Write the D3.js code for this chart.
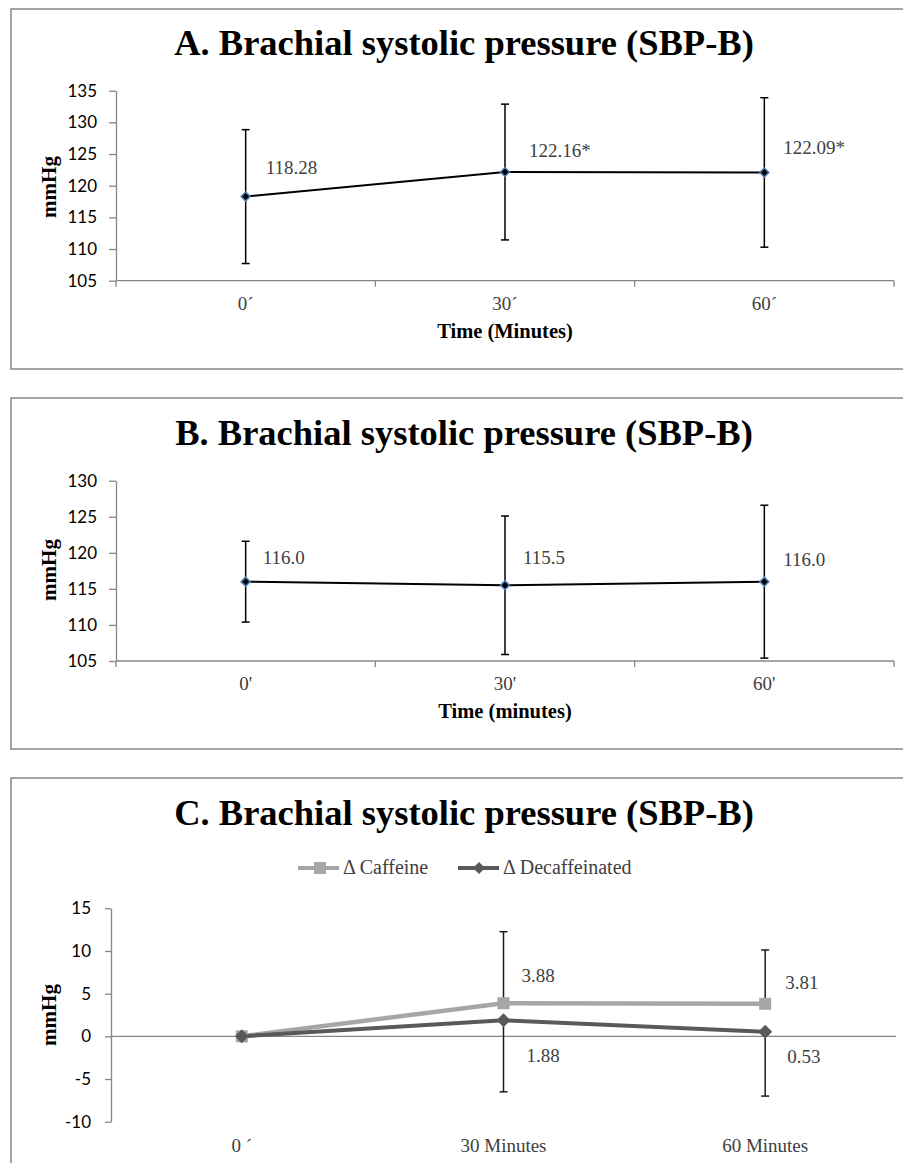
<!DOCTYPE html>
<html lang="en">
<head>
<meta charset="UTF-8">
<title>Brachial systolic pressure</title>
<script src="https://cdnjs.cloudflare.com/ajax/libs/d3/7.8.5/d3.min.js"></script>
<style>
    body { margin: 0; background: #fff; }
    .tick text { font-family: Lato, sans-serif; font-size: 17px; fill: #000; }
    .domain, .tick line { stroke: #868686; stroke-width: 1.3; }
    .serif { font-family: "Liberation Serif", serif; }
</style>
</head>
<body>
<div id="wrapper"></div>
<script>
// panel A
const timesA = ["0´", "30´", "60´"];
const sbpA = [118.28, 122.16, 122.09];
const sdA = [10.57, 10.72, 11.8];
const labelsA = ["118.28", "122.16*", "122.09*"];
const yTicksA = [105, 110, 115, 120, 125, 130, 135];

// panel B
const timesB = ["0'", "30'", "60'"];
const sbpB = [116.0, 115.5, 116.0];
const sdB = [5.6, 9.6, 10.6];
const labelsB = ["116.0", "115.5", "116.0"];
const yTicksB = [105, 110, 115, 120, 125, 130];

// panel C
const timesC = ["0 ´", "30 Minutes", "60 Minutes"];
const deltaCaffeine = [0, 3.88, 3.81];
const deltaDecaf = [0, 1.88, 0.53];
const sdCaffeine = [0, 8.38, 6.31];   // drawn upward only
const sdDecaf = [0, 8.38, 7.53];      // drawn downward only
const labelsCaffeine = ["", "3.88", "3.81"];
const labelsDecaf = ["", "1.88", "0.53"];
const yTicksC = [-10, -5, 0, 5, 10, 15];

const labelGray = "#404040";

const svg = d3.select("#wrapper").append("svg")
    .attr("width", 903)
    .attr("height", 1163);

function diamond(r) {
    return `M0,${-r}L${r},0L0,${r}L${-r},0Z`;
}

function panelFrame(top, bottom, title, titleY) {
    svg.append("rect")
        .attr("x", 11).attr("y", top)
        .attr("width", 900).attr("height", bottom - top)
        .attr("fill", "none").attr("stroke", "#868686").attr("stroke-width", 1.5);
    svg.append("text")
        .attr("class", "serif")
        .attr("x", 464).attr("y", titleY)
        .attr("text-anchor", "middle")
        .attr("font-weight", "bold").attr("font-size", 36.5)
        .text(title);
}

function yTitle(cy) {
    svg.append("text")
        .attr("class", "serif")
        .attr("transform", `translate(56,${cy}) rotate(-90)`)
        .attr("text-anchor", "middle")
        .attr("font-weight", "bold").attr("font-size", 21)
        .text("mmHg");
}

// single-series panels (A and B)
function drawSeries(cfg) {
    panelFrame(cfg.top, cfg.bottom, cfg.title, cfg.titleY);

    const x = d3.scaleBand().domain(cfg.times).range([116, 894]);
    const y = d3.scaleLinear().domain(d3.extent(cfg.ticks)).range(cfg.yRange);

    svg.append("g")
        .attr("transform", "translate(116,0)")
        .call(d3.axisLeft(y).tickValues(cfg.ticks).tickFormat(d => String(d))
            .tickSize(7).tickPadding(12).tickSizeOuter(0));

    // category axis with ticks on band edges
    const xAxis = svg.append("g");
    xAxis.append("line")
        .attr("x1", 116).attr("x2", 894)
        .attr("y1", y(cfg.ticks[0])).attr("y2", y(cfg.ticks[0]))
        .attr("stroke", "#868686").attr("stroke-width", 1.3);
    const edges = cfg.times.map(t => x(t)).concat([x.range()[1]]);
    xAxis.selectAll(".edge").data(edges).enter().append("line")
        .attr("x1", d => d).attr("x2", d => d)
        .attr("y1", y(cfg.ticks[0])).attr("y2", y(cfg.ticks[0]) + 6)
        .attr("stroke", "#868686").attr("stroke-width", 1.3);
    xAxis.selectAll(".cat").data(cfg.times).enter().append("text")
        .attr("class", "serif")
        .attr("x", d => x(d) + x.bandwidth() / 2)
        .attr("y", cfg.catY)
        .attr("text-anchor", "middle")
        .attr("font-size", 19).attr("fill", labelGray)
        .text(d => d);

    svg.append("text")
        .attr("class", "serif")
        .attr("x", 505).attr("y", cfg.xTitleY)
        .attr("text-anchor", "middle")
        .attr("font-weight", "bold").attr("font-size", 20.5)
        .text(cfg.xTitle);
    yTitle(cfg.yTitleY);

    const cx = i => x(cfg.times[i]) + x.bandwidth() / 2;

    // error bars (+/- SD)
    const bars = svg.append("g").attr("stroke", "#000").attr("stroke-width", 1.5);
    cfg.values.forEach((v, i) => {
        const y0 = y(v - cfg.sd[i]), y1 = y(v + cfg.sd[i]);
        bars.append("line").attr("x1", cx(i)).attr("x2", cx(i)).attr("y1", y0).attr("y2", y1);
        bars.append("line").attr("x1", cx(i) - 4).attr("x2", cx(i) + 4).attr("y1", y0).attr("y2", y0);
        bars.append("line").attr("x1", cx(i) - 4).attr("x2", cx(i) + 4).attr("y1", y1).attr("y2", y1);
    });

    svg.append("path")
        .datum(cfg.values)
        .attr("fill", "none").attr("stroke", "#000").attr("stroke-width", 2)
        .attr("d", d3.line().x((d, i) => cx(i)).y(d => y(d)));

    svg.selectAll(null).data(cfg.values).enter().append("path")
        .attr("transform", (d, i) => `translate(${cx(i)},${y(d)})`)
        .attr("d", diamond(4.5))
        .attr("fill", "#000").attr("stroke", "#4f81bd").attr("stroke-width", 1.5);

    svg.selectAll(null).data(cfg.values).enter().append("text")
        .attr("class", "serif")
        .attr("x", (d, i) => cx(i) + cfg.labelOffsets[i][0])
        .attr("y", (d, i) => y(d) + cfg.labelOffsets[i][1])
        .attr("font-size", 19).attr("fill", labelGray)
        .text((d, i) => cfg.labels[i]);
}

drawSeries({
    top: 9, bottom: 369, title: "A. Brachial systolic pressure (SBP-B)", titleY: 55,
    times: timesA, values: sbpA, sd: sdA, labels: labelsA, ticks: yTicksA,
    yRange: [280.7, 90.7], catY: 310, xTitle: "Time (Minutes)", xTitleY: 338, yTitleY: 187,
    labelOffsets: [[20, -23], [24, -15], [19, -18]]
});

drawSeries({
    top: 398, bottom: 749, title: "B. Brachial systolic pressure (SBP-B)", titleY: 445,
    times: timesB, values: sbpB, sd: sdB, labels: labelsB, ticks: yTicksB,
    yRange: [661, 480.7], catY: 690, xTitle: "Time (minutes)", xTitleY: 718, yTitleY: 570,
    labelOffsets: [[17, -18], [18, -21], [19, -16]]
});

// panel C: change from baseline, two series
panelFrame(778, 1200, "C. Brachial systolic pressure (SBP-B)", 825);

const xC = d3.scaleBand().domain(timesC).range([111, 896]);
const yC = d3.scaleLinear().domain([-10, 15]).range([1121.7, 908.3]);
const cxC = i => xC(timesC[i]) + xC.bandwidth() / 2;

svg.append("g")
    .attr("transform", "translate(111,0)")
    .call(d3.axisLeft(yC).tickValues(yTicksC).tickFormat(d => String(d))
        .tickSize(6).tickPadding(14).tickSizeOuter(0));

svg.append("line")
    .attr("x1", 111).attr("x2", 896)
    .attr("y1", yC(0)).attr("y2", yC(0))
    .attr("stroke", "#868686").attr("stroke-width", 1.3);

svg.selectAll(null).data(timesC).enter().append("text")
    .attr("class", "serif")
    .attr("x", d => xC(d) + xC.bandwidth() / 2)
    .attr("y", 1152)
    .attr("text-anchor", "middle")
    .attr("font-size", 19).attr("fill", labelGray)
    .text(d => d);

yTitle(1015);

const barsC = svg.append("g").attr("stroke", "#1a1a1a").attr("stroke-width", 1.5);
function halfBar(i, from, to) {
    barsC.append("line").attr("x1", cxC(i)).attr("x2", cxC(i)).attr("y1", yC(from)).attr("y2", yC(to));
    barsC.append("line").attr("x1", cxC(i) - 4).attr("x2", cxC(i) + 4).attr("y1", yC(to)).attr("y2", yC(to));
}
deltaCaffeine.forEach((v, i) => { if (sdCaffeine[i]) halfBar(i, v, v + sdCaffeine[i]); });
deltaDecaf.forEach((v, i) => { if (sdDecaf[i]) halfBar(i, v, v - sdDecaf[i]); });

const lineC = d3.line().x((d, i) => cxC(i)).y(d => yC(d));
svg.append("path").datum(deltaCaffeine)
    .attr("fill", "none").attr("stroke", "#a6a6a6").attr("stroke-width", 4.5).attr("d", lineC);
svg.append("path").datum(deltaDecaf)
    .attr("fill", "none").attr("stroke", "#595959").attr("stroke-width", 4).attr("d", lineC);

svg.selectAll(null).data(deltaCaffeine).enter().append("rect")
    .attr("x", (d, i) => cxC(i) - 6).attr("y", d => yC(d) - 6)
    .attr("width", 12).attr("height", 12).attr("fill", "#a6a6a6");
svg.selectAll(null).data(deltaDecaf).enter().append("path")
    .attr("transform", (d, i) => `translate(${cxC(i)},${yC(d)})`)
    .attr("d", diamond(7)).attr("fill", "#595959");

const caffOffsets = [[0, 0], [18, -21.5], [20, -15]];
const decafOffsets = [[0, 0], [23, 42], [22, 31]];
svg.selectAll(null).data(deltaCaffeine).enter().append("text")
    .attr("class", "serif")
    .attr("x", (d, i) => cxC(i) + caffOffsets[i][0])
    .attr("y", (d, i) => yC(d) + caffOffsets[i][1])
    .attr("font-size", 19).attr("fill", labelGray)
    .text((d, i) => labelsCaffeine[i]);
svg.selectAll(null).data(deltaDecaf).enter().append("text")
    .attr("class", "serif")
    .attr("x", (d, i) => cxC(i) + decafOffsets[i][0])
    .attr("y", (d, i) => yC(d) + decafOffsets[i][1])
    .attr("font-size", 19).attr("fill", labelGray)
    .text((d, i) => labelsDecaf[i]);

// legend
const legend = svg.append("g").attr("transform", "translate(0,868)");
const legendItems = [
    { name: "Δ Caffeine", color: "#a6a6a6", x0: 298, shape: "square" },
    { name: "Δ Decaffeinated", color: "#595959", x0: 458, shape: "diamond" }
];
legendItems.forEach(it => {
    legend.append("line")
        .attr("x1", it.x0).attr("x2", it.x0 + 41).attr("y1", 0).attr("y2", 0)
        .attr("stroke", it.color).attr("stroke-width", 4);
    if (it.shape === "square") {
        legend.append("rect").attr("x", it.x0 + 16).attr("y", -6)
            .attr("width", 12).attr("height", 12).attr("fill", it.color);
    } else {
        legend.append("path").attr("transform", `translate(${it.x0 + 21},0)`)
            .attr("d", diamond(6)).attr("fill", it.color);
    }
    legend.append("text")
        .attr("class", "serif")
        .attr("x", it.x0 + 45).attr("y", 6)
        .attr("font-size", 20).attr("fill", labelGray)
        .text(it.name);
});
</script>
</body>
</html>
